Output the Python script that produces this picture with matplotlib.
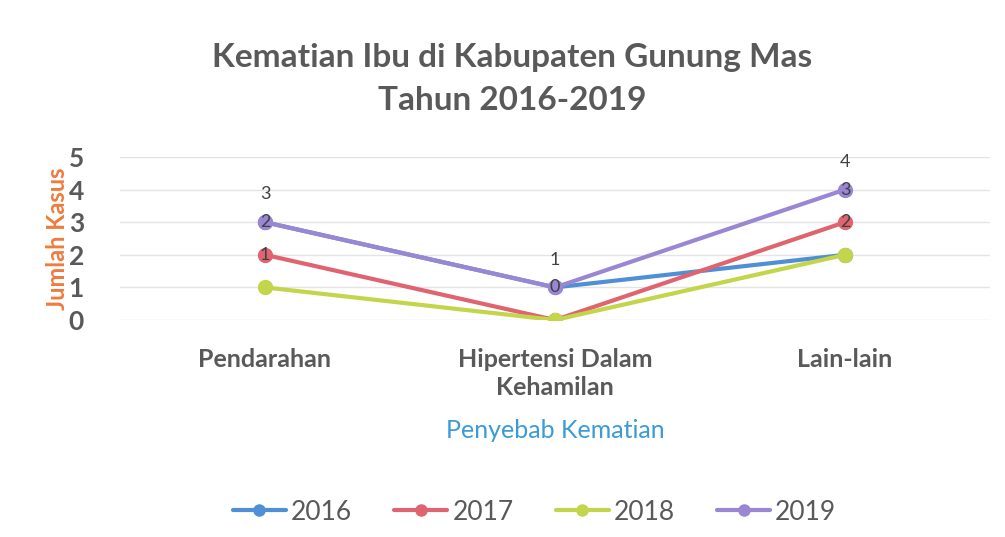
import matplotlib.pyplot as plt
import numpy as np

# Data
categories = ["Pendarahan", "Hipertensi Dalam\nKehamilan", "Lain-lain"]
years = ["2016", "2017", "2018", "2019"]
v2016 = [3, 1, 2]
v2017 = [2, 0, 3]
v2018 = [1, 0, 2]
v2019 = [3, 1, 4]
series = [v2016, v2017, v2018, v2019]
colors = ["#4f8fd6", "#e0646f", "#c3d54a", "#9a86d2"]

# data labels as they appear in the chart
top_labels = ["3", "1", "4"]          # above the 2019 markers
inner_2019 = ["2", "0", "3"]          # inside the 2019 markers
inner_2017 = ["1", "", "2"]           # inside the 2017 markers

plt.rcParams["font.family"] = ["Lato", "DejaVu Sans"]
grey = "#595959"

fig = plt.figure(figsize=(10.05, 5.37), dpi=100)
ax = fig.add_axes([120 / 1005, 1 - 320 / 537, 870 / 1005, 163 / 537])

x = np.arange(len(categories))
for yr, vals, col in zip(years, series, colors):
    ax.plot(x, vals, color=col, linewidth=3, marker="o", markersize=10,
            markeredgecolor=col, label=yr, solid_capstyle="round")

for i in x:
    ax.text(i, v2019[i] + 0.85, top_labels[i], ha="center", va="center",
            fontsize=13, color="#404040")
    ax.text(i, v2019[i], inner_2019[i], ha="center", va="center",
            fontsize=13, color="#404040")
    if inner_2017[i]:
        ax.text(i, v2017[i], inner_2017[i], ha="center", va="center",
                fontsize=13, color="#404040")

ax.set_xlim(-0.5, 2.5)
ax.set_ylim(0, 5)
ax.set_yticks(range(0, 6))
ax.set_xticks(x)
ax.set_xticklabels(categories, fontsize=18, fontweight="bold", color=grey,
                   linespacing=1.3)
ax.tick_params(axis="y", labelsize=19, colors=grey, length=0, pad=26)
ax.tick_params(axis="x", length=0, pad=20)
for lbl in ax.get_yticklabels():
    lbl.set_fontweight("bold")
ax.grid(axis="y", color="#e4e4e4", linewidth=1)
ax.set_axisbelow(True)
for s in ax.spines.values():
    s.set_visible(False)

ax.set_xlabel("Penyebab Kematian", fontsize=18, color="#3a9bd6", labelpad=14)
ax.set_ylabel("Jumlah Kasus", fontsize=17, color="#f07a3c", fontweight="bold",
              labelpad=0)

fig.text(0.51, 1 - 58 / 537, "Kematian Ibu di Kabupaten Gunung Mas",
         ha="center", va="center", fontsize=24, fontweight="bold", color=grey)
fig.text(0.51, 1 - 100 / 537, "Tahun 2016-2019",
         ha="center", va="center", fontsize=24, fontweight="bold", color=grey)

leg = fig.legend(loc="center", bbox_to_anchor=(0.532, 1 - 512 / 537), ncol=4,
                 frameon=False, fontsize=19, labelcolor=grey, handlelength=2.0,
                 columnspacing=1.6, handletextpad=0.2, markerscale=0.8)

plt.savefig("out.png", dpi=100)
